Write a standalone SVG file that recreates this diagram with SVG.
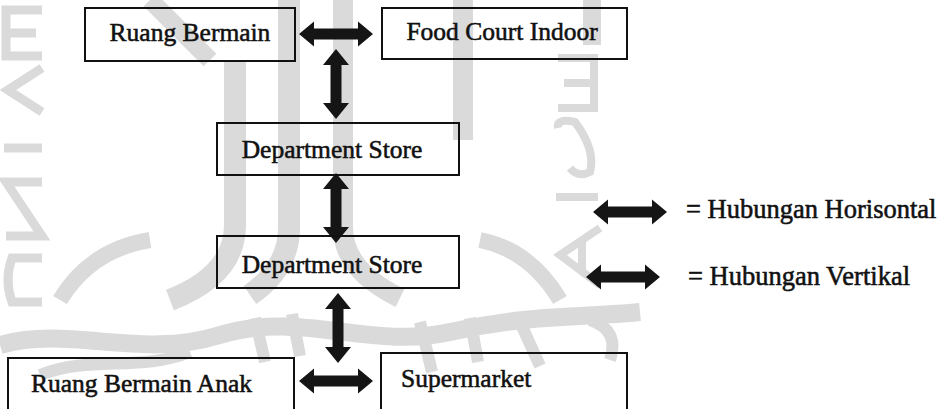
<svg xmlns="http://www.w3.org/2000/svg" width="948" height="409" viewBox="0 0 948 409">
  <style>
    .box{fill:none;stroke:#111;stroke-width:2}
    .lbl{font-family:"Liberation Serif","Times New Roman",serif;font-size:25.5px;fill:#111;stroke:#111;stroke-width:0.55}
    .key{font-size:26.5px}
    .arr{fill:#151515}
    .wm{fill:none;stroke:#dadada;stroke-linecap:butt;stroke-linejoin:miter}
  </style>
  <defs>
    <!-- double-headed block arrows, centred on the origin -->
    <path id="harrow" d="M-37,0 L-22,-12.5 L-22,-5.5 L22,-5.5 L22,-12.5 L37,0 L22,12.5 L22,5.5 L-22,5.5 L-22,12.5 Z"/>
    <path id="varrow" d="M0,-35 L13,-19 L5.5,-19 L5.5,19 L13,19 L0,35 L-13,19 L-5.5,19 L-5.5,-19 L-13,-19 Z"/>
  </defs>

  <rect width="948" height="409" fill="#fff"/>

  <!-- faint background emblem -->
  <g id="emblem">
    <!-- rotated lettering at the left edge -->
    <path class="wm" stroke-width="9" d="M42,10 L6,10 L6,56 L42,56 M6,33 L36,33"/>
    <path class="wm" stroke-width="9" d="M42,68 L8,90 L42,112"/>
    <path class="wm" stroke-width="9" d="M4,148 L42,148"/>
    <path class="wm" stroke-width="9" d="M42,182 L6,182 L42,236 L6,236"/>
    <path class="wm" stroke-width="9" d="M42,258 L12,258 Q4,280 12,302 L42,302"/>
    <!-- central stem bands -->
    <path class="wm" stroke-width="22" d="M235,60 L235,225 Q235,275 170,300"/>
    <path class="wm" stroke-width="22" d="M289,0 L289,228 Q289,268 250,295"/>
    <path class="wm" stroke-width="20" d="M343,0 L343,228 Q343,270 400,298"/>
    <path class="wm" stroke-width="20" d="M463,0 L463,140"/>
    <path class="wm" stroke-width="18" d="M150,0 L210,60"/>
    <path class="wm" stroke-width="18" d="M592,0 L592,45"/>
    <path class="wm" stroke-width="16" d="M60,300 Q90,250 150,240"/>
    <path class="wm" stroke-width="16" d="M560,300 Q530,250 480,240"/>
    <!-- rotated lettering at the right -->
    <path class="wm" stroke-width="8" d="M558,58 L594,58 L594,108 L558,108 M594,83 L564,83"/>
    <path class="wm" stroke-width="8" d="M558,128 Q556,118 575,122 Q596,150 590,172 Q578,178 570,168"/>
    <path class="wm" stroke-width="8" d="M556,197 L598,197"/>
    <path class="wm" stroke-width="8" d="M600,228 L560,255 L600,285 M582,240 L582,272"/>
    <!-- calligraphy band at the bottom -->
    <path class="wm" stroke-width="18" d="M0,345 C70,325 140,360 220,335 S370,350 450,332 S580,318 640,312"/>
    <path class="wm" stroke-width="12" d="M40,375 C90,355 140,372 190,352 M255,318 L265,362 M292,314 L300,356 M420,322 L432,372 M470,318 L478,362 M520,322 L540,366 M590,320 Q620,330 610,360"/>
  </g>

  <!-- connectors -->
  <g id="connectors" class="arr">
    <use href="#harrow" x="336" y="34"/>
    <use href="#varrow" x="336" y="84"/>
    <use href="#varrow" x="336" y="208"/>
    <use href="#varrow" x="338" y="328"/>
    <use href="#harrow" x="336" y="381"/>
  </g>

  <g id="n-ruang-bermain">
    <rect class="box" x="85" y="8" width="210" height="53"/>
    <text class="lbl" x="190" y="41" text-anchor="middle">Ruang Bermain</text>
  </g>
  <g id="n-food-court">
    <rect class="box" x="382" y="8" width="245" height="51"/>
    <text class="lbl" x="502" y="40" text-anchor="middle">Food Court Indoor</text>
  </g>
  <g id="n-dept-store-1">
    <rect class="box" x="217" y="123" width="242" height="52"/>
    <text class="lbl" x="332" y="158" text-anchor="middle">Department Store</text>
  </g>
  <g id="n-dept-store-2">
    <rect class="box" x="217" y="236" width="242" height="52"/>
    <text class="lbl" x="332" y="273" text-anchor="middle">Department Store</text>
  </g>
  <g id="n-ruang-bermain-anak">
    <rect class="box" x="8" y="358" width="286" height="60"/>
    <text class="lbl" x="31" y="392">Ruang Bermain Anak</text>
  </g>
  <g id="n-supermarket">
    <rect class="box" x="381" y="353" width="246" height="60"/>
    <text class="lbl" x="401" y="387">Supermarket</text>
  </g>

  <!-- legend -->
  <g id="legend">
    <use class="arr" href="#harrow" x="630" y="212"/>
    <text class="lbl key" x="686" y="218">= Hubungan Horisontal</text>
    <use class="arr" href="#harrow" x="623" y="277"/>
    <text class="lbl key" x="688" y="285">= Hubungan Vertikal</text>
  </g>
</svg>
